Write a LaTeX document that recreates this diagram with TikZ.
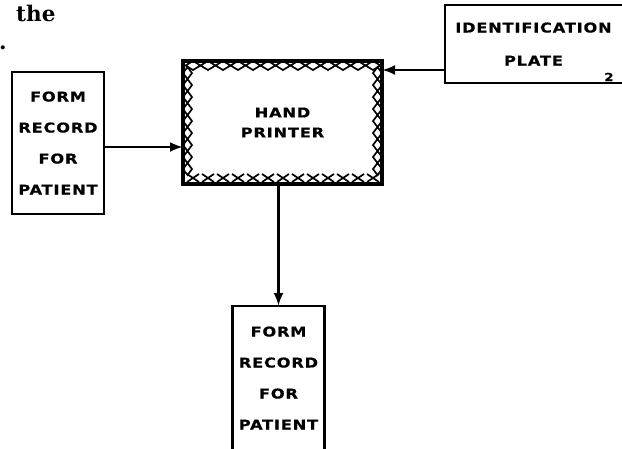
\documentclass[tikz,border=0pt]{standalone}
\usepackage{fontspec}
\usetikzlibrary{arrows.meta,positioning,calc}
\newfontfamily\platefont[FakeStretch=1.2,LetterSpace=6,FakeBold=0.6]{DejaVu Sans}
\newfontfamily\pageserif{DejaVu Serif}

\begin{document}
\begin{tikzpicture}[
  x=1pt,y=-1pt,
  font=\platefont\bfseries\fontsize{13.5}{31}\selectfont,
  n/.style={rectangle,align=center,inner sep=0pt,outer sep=0pt},
  form/.style={n,minimum width=92pt,minimum height=142pt},
  edge/.style={line width=2.2pt},
  arr/.style={-{Latex[length=13pt,width=10pt]},line width=2.6pt},
  zig/.style={line width=1.7pt,line join=miter},
  big/.style={font=\pageserif\bfseries\fontsize{21.5}{24}\selectfont,anchor=base west,inner sep=0pt}
]
\useasboundingbox (0,0) rectangle (622,448);
\node[big] (the) at (16,21.5) {the};
\node[big] (dot) at (-1,49) {.};
\node[form,draw,edge] (form1) at (58,143) {FORM\\RECORD\\FOR\\PATIENT};
\node[n,draw,line width=4pt,minimum width=199pt,minimum height=123pt,
  font=\platefont\bfseries\fontsize{13.5}{20}\selectfont] (hp) at (282.5,122.5) {HAND\\PRINTER};
% stamp border inside the printer
\foreach \i in {0,...,12}
  \draw[zig] ($(hp.north west)+(10+15*\i,0)$) -- ++(7.5,4.5) -- ++(-7.5,4.5) -- ++(-7.5,-4.5) -- cycle;
\foreach \j in {0,...,8} {
  \draw[zig] ($(hp.north west)+(0,12+12*\j)$) -- ++(4.5,-6) -- ++(4.5,6) -- ++(-4.5,6) -- cycle;
  \draw[zig] ($(hp.north east)+(0,12+12*\j)$) -- ++(-4.5,-6) -- ++(-4.5,6) -- ++(4.5,6) -- cycle;
}
\foreach \i in {0,...,12}
  \draw[zig] ($(hp.south west)+(4+15*\i,-2)$) -- ++(12,-8) ++(-12,0) -- ++(12,8);
\node[n,minimum width=177pt,minimum height=78pt,
  font=\platefont\bfseries\fontsize{13.5}{33}\selectfont] (ident) at (533.5,44) {IDENTIFICATION\\PLATE};
\draw[edge] (ident.north east) -| (ident.south west) -- (ident.south east);
\node[n,anchor=base,font=\platefont\bfseries\fontsize{11}{11}\selectfont] (num) at (609,81) {2};
\node[form,minimum height=144pt] (form2) at (278.5,378) {FORM\\RECORD\\FOR\\PATIENT};
\draw[edge] (form2.south west) |- (form2.north east) -- (form2.south east);
\coordinate (in1) at ([yshift=-4pt]form1.east);
\coordinate (in2) at ([yshift=-26pt]ident.west);
\draw[arr] (in1) -- (in1 -| hp.west);
\draw[arr] (in2) -- (in2 -| hp.east);
\draw[arr] (hp.south -| form2.north) -- (form2.north);
\end{tikzpicture}
\end{document}
